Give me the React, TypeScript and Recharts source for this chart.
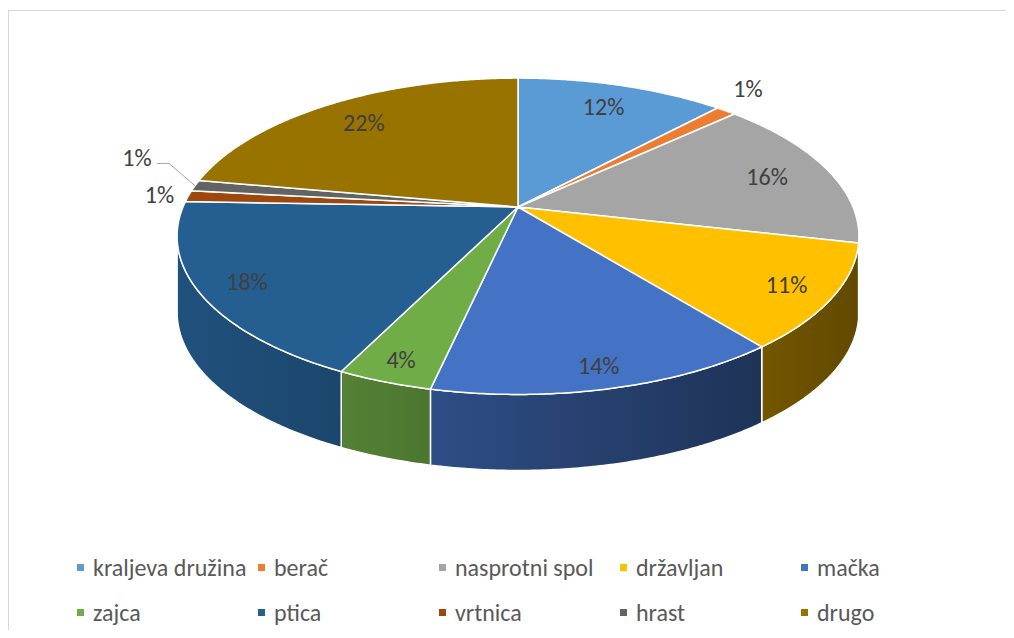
import { PieChart, Pie, Cell, Legend } from "recharts";

const categories = [
  "kraljeva družina",
  "berač",
  "nasprotni spol",
  "državljan",
  "mačka",
  "zajca",
  "ptica",
  "vrtnica",
  "hrast",
  "drugo",
];
const counts = [31, 3, 41, 28, 37, 10, 48, 3, 3, 58];
const colors = [
  "#5B9BD5",
  "#ED7D31",
  "#A5A5A5",
  "#FFC000",
  "#4472C4",
  "#70AD47",
  "#255E91",
  "#9E480E",
  "#636363",
  "#997300",
];

const data = categories.map((name, i) => ({ name, value: counts[i] }));
const total = counts.reduce((s, v) => s + v, 0);

const FONT = "Carlito, Calibri, Lato, 'Open Sans', sans-serif";
const RAD = Math.PI / 180;
const TILT = 0.456; // vertical squash of the disc
const PERSP = 0.185; // near edge looks bigger than the far one
const DEPTH = 0.227; // side wall height, as part of the radius
const RIGHT_EDGE = -Math.asin(PERSP) / RAD;
const LEFT_EDGE = -180 - RIGHT_EDGE;

function project(cx: number, cy: number, R: number, angle: number, r: number) {
  const u = r * Math.cos(angle * RAD);
  const v = -r * Math.sin(angle * RAD);
  const k = 1 - PERSP * v;
  return { x: cx + (R * u) / k, y: cy + (R * TILT * v) / k };
}

function shade(hex: string, f: number) {
  const n = parseInt(hex.slice(1), 16);
  const c = [(n >> 16) & 255, (n >> 8) & 255, n & 255].map((x) => Math.round(x * f));
  return `rgb(${c[0]},${c[1]},${c[2]})`;
}

function arc(cx: number, cy: number, R: number, from: number, to: number, dy = 0) {
  const steps = Math.max(2, Math.ceil(Math.abs(from - to) * 2));
  const pts: string[] = [];
  for (let i = 0; i <= steps; i++) {
    const a = from + ((to - from) * i) / steps;
    const p = project(cx, cy, R, a, 1);
    pts.push(`${p.x.toFixed(2)},${(p.y + dy).toFixed(2)}`);
  }
  return pts;
}

// side walls, only the front half of the rim shows
const renderSide = (props: any) => {
  const { cx, cy, outerRadius, startAngle, endAngle, index } = props;
  const hi = Math.min(startAngle, RIGHT_EDGE);
  const lo = Math.max(endAngle, LEFT_EDGE);
  if (hi <= lo) return <g />;
  const depth = outerRadius * DEPTH;
  const top = arc(cx, cy, outerRadius, hi, lo);
  const bottom = arc(cx, cy, outerRadius, lo, hi, depth);
  const id = `side-${index}`;
  const w = outerRadius * 1.02;
  return (
    <g>
      <defs>
        <linearGradient id={id} gradientUnits="userSpaceOnUse" x1={cx - w} x2={cx + w} y1={0} y2={0}>
          <stop offset="0" stopColor={shade(colors[index], 0.86)} />
          <stop offset="1" stopColor={shade(colors[index], 0.38)} />
        </linearGradient>
      </defs>
      <polygon
        points={[...top, ...bottom].join(" ")}
        fill={`url(#${id})`}
        stroke="#fff"
        strokeWidth={1.5}
        strokeLinejoin="round"
      />
    </g>
  );
};

const renderTop = (props: any) => {
  const { cx, cy, outerRadius, startAngle, endAngle, index } = props;
  const pts = arc(cx, cy, outerRadius, startAngle, endAngle);
  return (
    <path
      d={`M${cx},${cy} L${pts.join(" L")} Z`}
      fill={colors[index]}
      stroke="#fff"
      strokeWidth={1.5}
      strokeLinejoin="round"
    />
  );
};

const renderText = (props: any) => {
  const { cx, cy, outerRadius, startAngle, endAngle, percent, index } = props;
  const mid = (startAngle + endAngle) / 2;
  const text = `${Math.round(percent * 100)}%`;
  const dx = Math.cos(mid * RAD);
  const dy = -Math.sin(mid * RAD);
  if (percent >= 0.02) {
    // labels on the near side sit further out, like Excel's best fit
    const front = Math.max(0, dy);
    const r = 0.8 + 0.16 * front * (1 - 0.4 * front);
    const p = project(cx, cy, outerRadius, mid, r);
    return (
      <text x={p.x} y={p.y} textAnchor="middle" dominantBaseline="central" fill="#404040" fontSize={24} fontFamily={FONT}>
        {text}
      </text>
    );
  }
  const w = 36;
  const h = 24;
  const rim = project(cx, cy, outerRadius, mid, 1);
  const d = 10 + (Math.abs(dx) * w) / 2 + (Math.abs(dy) * h) / 2;
  let x = rim.x + dx * d;
  let y = rim.y + dy * d;
  const prevSmall = index > 0 && counts[index - 1] / total < 0.02;
  let leader = null;
  if (prevSmall) {
    const side = dx < 0 ? -1 : 1;
    x += side * w * 0.8;
    y -= h;
    const sx = x - side * (w / 2 + 2);
    const sy = y + 6;
    leader = (
      <polyline
        points={`${sx},${sy} ${sx - side * 12},${sy} ${rim.x},${rim.y}`}
        fill="none"
        stroke="#a6a6a6"
        strokeWidth={1}
      />
    );
  }
  return (
    <g>
      {leader}
      <text x={x} y={y} textAnchor="middle" dominantBaseline="central" fill="#404040" fontSize={24} fontFamily={FONT}>
        {text}
      </text>
    </g>
  );
};

const renderLegend = (props: any) => {
  const payload: any[] = props.payload ?? [];
  const items = payload.length === categories.length ? payload.map((p) => String(p.value)) : categories;
  return (
    <div
      style={{
        display: "grid",
        gridTemplateColumns: "repeat(5, 181px)",
        fontFamily: FONT,
        fontSize: 24,
        color: "#595959",
      }}
    >
      {items.map((name, i) => (
        <div key={name} style={{ height: 45, display: "flex", alignItems: "center", whiteSpace: "nowrap" }}>
          <span style={{ width: 7, height: 7, background: colors[i], marginRight: 9, flex: "none" }} />
          <span>{name}</span>
        </div>
      ))}
    </div>
  );
};

export default function App() {
  return (
    <div style={{ position: "relative", width: 1014, height: 638, margin: -8, background: "#fff", overflow: "hidden" }}>
      <div
        style={{
          position: "absolute",
          left: 8,
          top: 10,
          width: 1100,
          height: 700,
          border: "1px solid #d6d6d6",
        }}
      />
      <PieChart width={1014} height={638} margin={{ top: 0, right: 0, bottom: 0, left: 0 }}>
        <Pie
          data={data}
          dataKey="value"
          nameKey="name"
          cx={518}
          cy={207}
          outerRadius={335}
          startAngle={90}
          endAngle={-270}
          fill="none"
          stroke="none"
          legendType="none"
          label={renderSide}
          labelLine={false}
          isAnimationActive={false}
        />
        <Pie
          data={data}
          dataKey="value"
          nameKey="name"
          cx={518}
          cy={207}
          outerRadius={335}
          startAngle={90}
          endAngle={-270}
          fill="none"
          stroke="none"
          legendType="none"
          label={renderTop}
          labelLine={false}
          isAnimationActive={false}
        />
        <Pie
          data={data}
          dataKey="value"
          nameKey="name"
          cx={518}
          cy={207}
          outerRadius={335}
          startAngle={90}
          endAngle={-270}
          stroke="none"
          label={renderText}
          labelLine={false}
          isAnimationActive={false}
        >
          {data.map((d, i) => (
            <Cell key={d.name} fill={colors[i]} fillOpacity={0} />
          ))}
        </Pie>
        <Legend
          content={renderLegend}
          wrapperStyle={{ position: "absolute", left: 77, top: 545, width: 910 }}
        />
      </PieChart>
    </div>
  );
}
